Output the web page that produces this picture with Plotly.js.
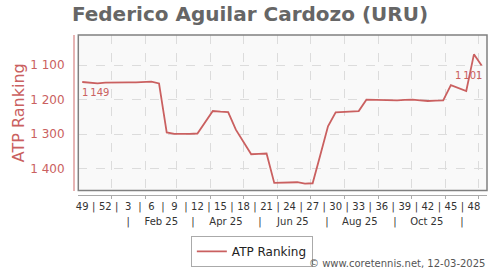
<!DOCTYPE html>
<html>
<head>
<meta charset="utf-8">
<script src="https://cdn.plot.ly/plotly-3.0.1.min.js"></script>
<style>html,body{margin:0;padding:0;background:#fff;}#chart{width:500px;height:270px;}</style>
</head>
<body>
<div id="chart"></div>
<script>
// Weekly ranking dates (Thursday of each ISO week)
const weekDates = [
  '2024-12-05','2024-12-12','2024-12-19','2024-12-26',
  '2025-01-02','2025-01-09','2025-01-16','2025-01-23','2025-01-30',
  '2025-02-06','2025-02-13','2025-02-20','2025-02-27',
  '2025-03-06','2025-03-13','2025-03-20','2025-03-27',
  '2025-04-03','2025-04-10','2025-04-17','2025-04-24',
  '2025-05-01','2025-05-08','2025-05-15','2025-05-22','2025-05-29',
  '2025-06-05','2025-06-12','2025-06-19','2025-06-26',
  '2025-07-03','2025-07-10','2025-07-17','2025-07-24','2025-07-31',
  '2025-08-07','2025-08-14','2025-08-21','2025-08-28',
  '2025-09-04','2025-09-11','2025-09-18','2025-09-25',
  '2025-10-02','2025-10-09','2025-10-16','2025-10-23','2025-10-30',
  '2025-11-06','2025-11-13','2025-11-20','2025-11-27',
  '2025-12-04'
];
const atpRanking = [
  1149,1152,1153,1151,
  1150,1150,1150,1150,1150,
  1148,1153,1295,1299,
  1300,1299,1298,1266,
  1233,1235,1236,1287,
  1322,1358,1357,1356,1441,
  1441,1441,1439,1443,
  1442,1360,1277,1237,1236,
  1235,1233,1200,1201,
  1202,1203,1202,1201,
  1200,1202,1204,1203,1202,
  1158,1167,1175,1069,
  1101
];
// Week-number tick labels
const weekTickDates = ['2024-12-05','2024-12-26','2025-01-16','2025-02-06','2025-02-27','2025-03-20','2025-04-10','2025-05-01','2025-05-22','2025-06-12','2025-07-03','2025-07-24','2025-08-14','2025-09-04','2025-09-25','2025-10-16','2025-11-06','2025-11-27'];
const weekTickLabels = ['49','52','3','6','9','12','15','18','21','24','27','30','33','36','39','42','45','48'];
// Month-period labels
const monthTickDates = ['2025-02-15','2025-04-15','2025-06-15','2025-08-15','2025-10-15'];
const monthTickLabels = ['Feb 25','Apr 25','Jun 25','Aug 25','Oct 25'];
const monthSepDates = ['2025-01-16','2025-03-16','2025-05-16','2025-07-16','2025-09-16','2025-11-16'];

const FONT = 'DejaVu Sans';
const RED = 'rgb(202,96,96)';
const xRange = ['2024-12-01 10:00','2025-12-08 22:00'];

function ms(d){return new Date(d+'T00:00:00Z').getTime();}
function iso(t){return new Date(t).toISOString().slice(0,19).replace('T',' ');}
// separators midway between week labels
const weekVals = [], weekText = [];
for (let i=0;i<weekTickDates.length;i++){
  weekVals.push(weekTickDates[i]); weekText.push(weekTickLabels[i]);
  if (i<weekTickDates.length-1){
    weekVals.push(iso((ms(weekTickDates[i])+ms(weekTickDates[i+1]))/2));
    weekText.push('|');
  }
}
const monthVals = monthTickDates.concat(monthSepDates);
const monthText = monthTickLabels.concat(monthSepDates.map(()=> '|'));

function fmt(v){const s=String(v);return s.length>3? s.slice(0,s.length-3)+'\u202f'+s.slice(-3):s;}
const n = atpRanking.length;

const trace = {
  x: weekDates, y: atpRanking, type:'scatter', mode:'lines',
  name:'ATP Ranking', line:{color:RED, width:1.8}, xaxis:'x2', yaxis:'y',
  hoverinfo:'x+y'
};
const dummy = {x: weekDates, y: atpRanking, type:'scatter', mode:'lines', xaxis:'x3', yaxis:'y', line:{width:0, color:'rgba(0,0,0,0)'}, showlegend:false, hoverinfo:'skip'};
const dummy2 = {x: weekDates, y: atpRanking, type:'scatter', mode:'lines', xaxis:'x', yaxis:'y', line:{width:0, color:'rgba(0,0,0,0)'}, showlegend:false, hoverinfo:'skip'};

const layout = {
  width:500, height:270,
  margin:{l:73, r:12.5, t:35, b:75, pad:0, autoexpand:false},
  paper_bgcolor:'#fff', plot_bgcolor:'#f9f9f9',
  separators:'. ',
  font:{family:FONT, size:10, color:'#333'},
  title:{text:'Federico Aguilar Cardozo (URU)', font:{family:FONT, size:20, color:'#666', weight:'bold'}, x:0.5, xref:'container', xanchor:'center', y:0.948, yref:'container', yanchor:'middle'},
  xaxis:{type:'date', range:xRange, domain:[0.0128,1], anchor:'free', position:0,
    showgrid:true, gridcolor:'#dcdcdc', griddash:'dash', gridwidth:1,
    tick0:'2025-01-01', dtick:'M1', showticklabels:false, ticks:'outside', ticklen:3, tickcolor:'#aaa',
    showline:true, linecolor:'#aaa', linewidth:1, zeroline:false, fixedrange:true},
  xaxis2:{type:'date', range:xRange, overlaying:'x', anchor:'free', position:0,
    showgrid:false, tickmode:'array', tickvals:weekVals, ticktext:weekText, ticks:'',
    ticklabelstandoff:4, tickfont:{family:FONT, size:10, color:'#333'}, showline:false, zeroline:false},
  xaxis3:{type:'date', range:xRange, overlaying:'x', anchor:'free', position:0,
    showgrid:false, tickmode:'array', tickvals:monthVals, ticktext:monthText, ticks:'',
    ticklabelstandoff:19, tickfont:{family:FONT, size:10, color:'#333'}, showline:false, zeroline:false},
  yaxis:{range:[1463,1013], domain:[0.028,1], anchor:'free', position:0,
    tickvals:[1100,1200,1300,1400], tickformat:',d',
    showgrid:true, gridcolor:'#dcdcdc', griddash:'dash', gridwidth:1,
    showline:true, linecolor:'rgb(230,180,180)', linewidth:1.5, ticks:'', ticklabelstandoff:6,
    tickfont:{family:FONT, size:12, color:RED}, zeroline:false,
    title:{text:'ATP Ranking', font:{family:FONT, size:16, color:RED}, standoff:0}},
  showlegend:true,
  legend:{orientation:'h', x:0.432, xanchor:'center', y:-0.255, yanchor:'top', bgcolor:'#fff', bordercolor:'#aaa', borderwidth:1,
    font:{family:FONT, size:12, color:'#222'}, itemwidth:30},
  shapes:[{type:'rect', xref:'x domain', yref:'y domain', x0:0, x1:1, y0:0, y1:1, line:{color:'#808080', width:1.5}, fillcolor:'rgba(0,0,0,0)', layer:'above'}],
  annotations:[
    {x:weekDates[0], y:atpRanking[0], xref:'x2', yref:'y', text:fmt(atpRanking[0]), showarrow:false, xanchor:'left', yanchor:'top', yshift:-3, xshift:-2,
      font:{family:FONT, size:10, color:RED}},
    {x:weekDates[n-1], y:atpRanking[n-1], xref:'x2', yref:'y', text:fmt(atpRanking[n-1]), showarrow:false, xanchor:'right', yanchor:'top', yshift:-3, xshift:2,
      font:{family:FONT, size:10, color:RED}},
    {x:1, y:-0.43, xref:'paper', yref:'paper', text:'© www.coretennis.net, 12-03-2025', showarrow:false, xanchor:'right', yanchor:'middle',
      font:{family:FONT, size:10, color:'#555'}}
  ]
};
Plotly.newPlot('chart', [trace, dummy, dummy2], layout, {displayModeBar:false, staticPlot:true});
</script>
</body>
</html>
